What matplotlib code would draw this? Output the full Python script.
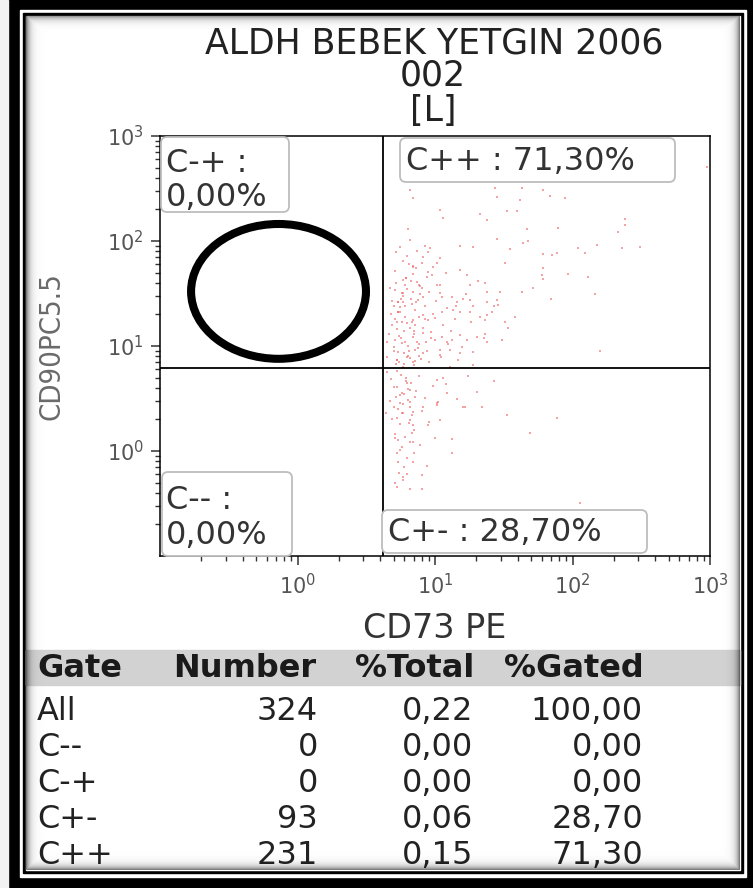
import numpy as np
import matplotlib
matplotlib.use("Agg")
import matplotlib.pyplot as plt
from matplotlib.patches import Rectangle, Ellipse, FancyBboxPatch
from matplotlib.ticker import LogLocator, NullFormatter

# events in the C++ quadrant (CD73 PE, CD90 PC5.5)
cpp_cd73 = [6.58, 6.9, 27.3, 43, 61, 68.6, 88, 41.5, 28.3, 10.9, 11.4, 21.2, 24, 33.4, 39.5,
            241, 241, 215, 46.8, 79, 6.4, 6.58, 5.56, 5.2, 8.46, 9.2, 8.9, 15.2, 18.9, 28.3,
            35.1, 47.5, 61, 71, 77, 109, 123, 151, 229, 310, 8.2, 10.9, 10.4, 6.9, 32.3,
            61, 60, 61, 93, 130, 8.9, 9.5, 5.85, 6.05, 7.4, 7.78, 10.9, 15.2, 17.1, 18,
            23.1, 24, 43, 146, 5.12, 5.85, 6.9, 8.2, 10.9, 13.3, 14.5, 18, 18.9, 24, 28.3,
            28.8, 5.4, 5.85, 5.56, 7.5, 8.2, 8.9, 10.0, 11.2, 13.5, 15.2, 18, 21.2, 24, 23.1,
            32.3, 5.3, 5.4, 6.25, 6.9, 5.12, 5.75, 6.05, 6.9, 8.2, 10.0, 11.2, 12.2, 13.3, 15.2,
            17.1, 20.2, 24, 30.7, 5.4, 6.25, 6.58, 7.16, 8.2, 10.9, 12.9, 15.2, 18.9, 14.7, 12.9,
            5.85, 6.9, 5.3, 950, 158,
            5.0, 5.3, 5.6, 5.9, 6.2, 6.5, 6.8, 7.1, 7.4, 7.7,
            5.1, 5.4, 5.7, 6.0, 6.3, 6.6, 6.9, 7.2, 7.5, 7.8,
            5.2, 5.5, 5.8, 6.1, 6.4, 6.7, 7.0, 7.3, 7.6, 7.9,
            8.2, 8.5, 8.8, 9.1, 9.4, 9.7, 10.2, 10.8, 11.5, 12.3,
            4.6, 4.8, 4.9, 5.0, 5.2, 4.7, 4.5, 4.9, 5.1, 5.3,
            5.5, 5.8, 6.1, 6.4, 6.7, 7.0, 7.3, 7.6, 8.0, 8.4,
            13.1, 14.2, 15.6, 16.8, 18.4, 20.5, 22.7, 26.0, 29.5, 34.0,
            5.9, 6.3, 6.9, 7.4, 8.1, 8.8, 9.6, 10.4, 11.3, 12.0,
            5.4, 5.7, 6.0, 6.2, 6.5, 6.8, 7.1, 7.7, 8.6, 9.3,
            11.0, 12.5, 14.0, 16.0, 19.0, 23.0, 27.0, 38.0, 52.0, 70.0,
            4.5, 5.0, 6.0, 7.0, 9.0, 44]
cpp_cd90 = [306, 257, 320, 320, 306, 268, 257, 246, 262, 197, 165, 181, 158, 193, 193,
            162, 142, 121, 130, 133, 130, 102, 87, 78, 89, 85, 78, 89, 87, 104,
            84, 99, 75, 74, 77, 86, 77, 92, 86, 87, 70, 69, 62, 56, 62,
            55, 47.4, 43.5, 48.4, 45.2, 50.6, 47.4, 42.5, 38.1, 40.7, 37.2, 38.1, 52.9, 47.4, 38.1,
            39.7, 32.6, 32.6, 31.3, 34.2, 32.2, 32.6, 29.3, 32.2, 29.3, 26.2, 27.4, 23.9, 26.5, 27.4,
            24.6, 26.5, 26.0, 23.3, 27.4, 19.7, 17.7, 18.5, 20.9, 22.0, 20.9, 20.9, 18.9, 19.7, 17.7,
            16.9, 16.9, 20.9, 16.5, 17.7, 11.4, 10.7, 11.0, 12.2, 13.2, 11.4, 12.2, 11.0, 11.4, 12.7,
            11.4, 12.2, 11.0, 11.4, 8.7, 7.9, 7.7, 9.16, 8.6, 9.16, 9.16, 8.6, 6.59, 7.36, 6.3,
            6.3, 7.0, 7.36, 510, 8.9,
            9.8, 14.5, 21, 30, 44, 60, 25, 16, 11, 8.0,
            18, 26, 12, 8.5, 35, 15, 48, 22, 9.5, 31,
            40, 7.0, 17, 24, 10, 28, 13, 55, 19, 7.6,
            15, 24, 9.0, 33, 12, 20, 27, 8.2, 16, 23,
            13, 20, 27, 9, 6.8, 36, 11, 16, 52, 7.4,
            12.5, 32, 19, 8.1, 42, 14, 26, 10.5, 36, 18,
            14, 24, 9.8, 31, 17, 42, 12, 21, 33, 15,
            65, 72, 58, 80, 62, 45, 56, 38, 29, 50,
            21, 28, 14, 44, 9.0, 17, 7.2, 38, 11, 13.5,
            7.9, 10.5, 18, 28, 8.7, 13, 24, 19, 36, 28,
            7.8, 24, 6.8, 6.6, 7.1, 95]

# events in the C+- quadrant
cpm_cd73 = [5.3, 6.25, 6.58, 10.4, 11.4, 5.75, 7.16, 12.2, 20.2, 5.56, 6.4, 8.2, 10.4, 15.9,
            5.75, 6.9, 33.4, 77, 6.58, 10.4, 16.5, 5.3, 5.85, 6.58, 6.9, 8.9, 10.9, 49, 5.12,
            5.4, 6.8, 6.58, 6.9, 10.0, 13.3, 13.3, 5.56, 5.4, 6.25, 6.9, 5.12, 5.85, 5.85, 6.58,
            8.0, 8.0, 5.3, 113,
            4.5, 4.8, 5.0, 5.2, 5.4, 5.6, 5.8, 6.0, 6.2, 6.4,
            6.6, 6.8, 7.0, 7.3, 7.6, 8.0, 8.5, 9.0, 9.6, 10.5,
            4.7, 4.9, 5.1, 5.3, 5.5, 5.7, 5.9, 6.1, 6.3, 6.5,
            12.0, 14.5, 17.5, 22.0, 27.0, 5.0, 5.6, 6.2, 7.0, 7.8,
            4.4, 5.3, 6.0, 6.7, 8.8]
cpm_cd90 = [4.06, 4.45, 3.81, 4.74, 5.0, 3.57, 3.27, 3.57, 3.65, 2.86, 3.06, 2.63, 2.86, 2.63,
            2.30, 2.35, 2.20, 2.06, 2.63, 2.74, 2.63, 2.06, 2.30, 1.97, 1.77, 1.77, 1.97, 1.49, 1.33,
            1.27, 1.49, 1.21, 1.23, 1.33, 1.30, 0.96, 1.02, 0.79, 0.86, 0.79, 0.50, 0.53, 0.56, 0.43,
            0.59, 0.43, 0.45, 0.32,
            5.6, 4.9, 4.1, 3.3, 2.5, 1.8, 1.1, 0.7, 4.6, 3.9,
            2.9, 2.2, 1.6, 3.7, 5.2, 2.4, 3.2, 1.9, 4.2, 2.9,
            3.0, 2.0, 1.45, 0.95, 0.62, 5.3, 2.8, 1.35, 0.6, 1.85,
            4.3, 3.1, 5.2, 2.6, 4.6, 2.65, 3.45, 5.0, 0.95, 1.15,
            2.3, 5.8, 3.5, 4.4, 0.72]

# quadrant gate boundaries
cd73_gate = 4.2
cd90_gate = 6.17

gates = ["All", "C--", "C-+", "C+-", "C++"]
gate_number = [324, 0, 0, 93, 231]
pct_total = [0.22, 0.00, 0.00, 0.06, 0.15]
pct_gated = [100 * n / gate_number[0] for n in gate_number]


def comma(v):
    return f"{v:.2f}".replace(".", ",")


W, H = 753, 888
fig = plt.figure(figsize=(W / 100, H / 100), dpi=100, facecolor="black")

# panel frame (pixel coordinates, y down)
bg = fig.add_axes([0, 0, 1, 1])
bg.set_xlim(0, W)
bg.set_ylim(H, 0)
bg.axis("off")
bg.add_patch(Rectangle((0, 0), 8, H, color="#f2f2f2"))
bg.add_patch(Rectangle((20, 10), 726, 867, color="white"))
bg.add_patch(Rectangle((23, 13), 720, 860, color="black"))
bg.add_patch(Rectangle((26, 16), 714, 854, color="white"))
bg.add_patch(Rectangle((26, 650), 714, 35, color="#d2d2d2"))

# dot plot
ax = fig.add_axes([160 / W, 1 - 556 / H, 550 / W, 420 / H])
ax.set_xscale("log")
ax.set_yscale("log")
ax.set_xlim(0.1, 1000)
ax.set_ylim(0.1, 1000)
dots = dict(s=4, marker="s", c="#ec5a5a", linewidths=0, alpha=0.55, zorder=2)
ax.scatter(cpp_cd73, cpp_cd90, **dots)
ax.scatter(cpm_cd73, cpm_cd90, **dots)
ax.axvline(cd73_gate, color="black", lw=1.3, zorder=3)
ax.axhline(cd90_gate, color="black", lw=1.3, zorder=3)
ax.add_patch(Ellipse((0.2155, 0.63), 0.318, 0.321, transform=ax.transAxes,
                     fill=False, ec="black", lw=5.8, zorder=4))

decades = [1, 10, 100, 1000]
dec_labels = [r"$10^{0}$", r"$10^{1}$", r"$10^{2}$", r"$10^{3}$"]
ax.set_xticks(decades)
ax.set_xticklabels(dec_labels)
ax.set_yticks(decades)
ax.set_yticklabels(dec_labels)
for axis in (ax.xaxis, ax.yaxis):
    axis.set_minor_locator(LogLocator(base=10, subs=np.arange(2, 10), numticks=20))
    axis.set_minor_formatter(NullFormatter())
ax.tick_params(which="major", length=6.5, width=1.1, color="#333333",
               labelsize=15, labelcolor="#555555", pad=5)
ax.tick_params(which="minor", length=3.5, width=1.0, color="#333333")
ax.tick_params(axis="x", which="major", pad=6)
for sp in ax.spines.values():
    sp.set_linewidth(1.1)
    sp.set_color("black")

ax.set_xlabel("CD73 PE", fontsize=24, color="#333333", va="center")
ax.xaxis.set_label_coords(0.5, (556 - 628) / 420)
ax.set_ylabel("CD90PC5.5", fontsize=21, color="#6a6a6a", va="center",
              fontstretch="condensed")
ax.yaxis.set_label_coords((52 - 160) / 550, 0.5)

# overlay: title, gate labels, statistics table
fg = fig.add_axes([0, 0, 1, 1], facecolor="none")
fg.set_xlim(0, W)
fg.set_ylim(H, 0)
fg.axis("off")

tfont = dict(ha="center", va="center", fontsize=25, color="#222222")
fg.text(434, 43, "ALDH BEBEK YETGIN 2006", **tfont)
fg.text(433, 76, "002", **tfont)
fg.text(433, 111, "[L]", **tfont)

boxes = {
    "C-+": (161, 137, 128, 75),
    "C++": (400, 138, 275, 44),
    "C--": (162, 472, 130, 84),
    "C+-": (382, 510, 265, 43),
}
for x0, y0, w, h in boxes.values():
    fg.add_patch(FancyBboxPatch((x0, y0), w, h, boxstyle="round,pad=0,rounding_size=6",
                                fc="white", ec="#bdbdbd", lw=1.3))
qfont = dict(fontsize=23, color="#333333", va="center", ha="left")
fg.text(166, 163, "C-+ :", **qfont)
fg.text(166, 197, f"{comma(pct_gated[2])}%", **qfont)
fg.text(406, 161, f"C++ : {comma(pct_gated[4])}%", **qfont)
fg.text(166, 500, "C-- :", **qfont)
fg.text(166, 535, f"{comma(pct_gated[1])}%", **qfont)
fg.text(388, 532, f"C+- : {comma(pct_gated[3])}%", **qfont)

hfont = dict(fontsize=23, color="#1a1a1a", va="center", fontweight="bold")
fg.text(37, 668, "Gate", ha="left", **hfont)
fg.text(316, 668, "Number", ha="right", **hfont)
fg.text(474, 668, "%Total", ha="right", **hfont)
fg.text(644, 668, "%Gated", ha="right", **hfont)

rfont = dict(fontsize=23, color="#222222", va="center")
row_y = [711, 747, 783, 819, 855]
for g, n, pt, pg, y in zip(gates, gate_number, pct_total, pct_gated, row_y):
    fg.text(37, y, g, ha="left", **rfont)
    fg.text(318, y, str(n), ha="right", **rfont)
    fg.text(473, y, comma(pt), ha="right", **rfont)
    fg.text(643, y, comma(pg), ha="right", **rfont)

# inner shadow along the panel edge
yy, xx = np.mgrid[0:H, 0:W] + 0.5
d = np.minimum.reduce([xx - 26, 740 - xx, yy - 16, 870 - yy])
shade = np.zeros((H, W, 4))
shade[..., 3] = np.where(d > 0, 0.6 * np.exp(-d / 3.5), 0)
top = fig.add_axes([0, 0, 1, 1], facecolor="none")
top.imshow(shade, extent=(0, W, H, 0), interpolation="bilinear")
top.set_xlim(0, W)
top.set_ylim(H, 0)
top.axis("off")

fig.savefig("out.png", dpi=100, facecolor="black")
